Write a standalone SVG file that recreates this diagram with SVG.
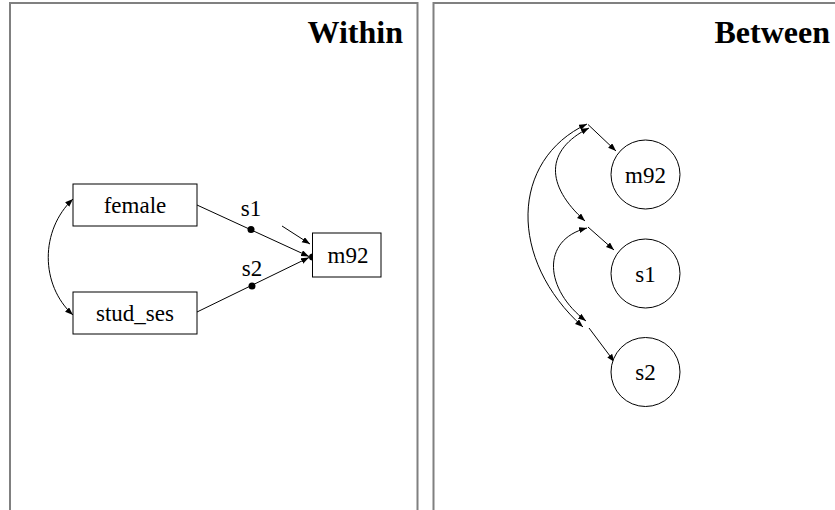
<svg xmlns="http://www.w3.org/2000/svg" width="835" height="510" viewBox="0 0 835 510">
<style>
.panel{fill:none;stroke:#808080;stroke-width:2}
.title{font-family:"Liberation Serif","Times New Roman",serif;font-weight:bold;font-size:32px;fill:#000}
.lbl{font-family:"Liberation Serif","Times New Roman",serif;font-size:23px;fill:#000}
.box{fill:#fff;stroke:#000;stroke-width:1}
.edge{fill:none;stroke:#000;stroke-width:1}
.dot{fill:#000}
</style>
<defs>
<marker id="ah" markerUnits="userSpaceOnUse" markerWidth="9" markerHeight="7" refX="8" refY="3" orient="auto-start-reverse">
<path d="M0,0 L8,3 L0,6 z" fill="#000"/>
</marker>
</defs>
<rect width="835" height="510" fill="#fff"/>
<g id="panel-within">
<path class="panel" d="M10,512 V3 H417.5 V512"/>
<text class="title" x="403" y="43" text-anchor="end">Within</text>
</g>
<g id="panel-between">
<path class="panel" d="M433.5,512 V3 H840"/>
<text class="title" x="830" y="43" text-anchor="end">Between</text>
</g>
<g id="connectors">
<path class="edge" d="M73,199 C40,230 40,285 73,315" marker-start="url(#ah)" marker-end="url(#ah)"/>
<line class="edge" x1="197" y1="205" x2="309" y2="256.5" marker-end="url(#ah)"/>
<line class="edge" x1="197" y1="312" x2="309" y2="257.5" marker-end="url(#ah)"/>
<line class="edge" x1="282" y1="226" x2="310" y2="244" marker-end="url(#ah)"/>
<circle class="dot" cx="251" cy="229.5" r="3.5"/>
<circle class="dot" cx="252" cy="286" r="3.5"/>
<circle class="dot" cx="312.5" cy="257" r="3.5"/>
<text class="lbl" x="251" y="216" text-anchor="middle">s1</text>
<text class="lbl" x="252" y="276" text-anchor="middle">s2</text>
<line class="edge" x1="588" y1="124.5" x2="616" y2="151" marker-end="url(#ah)"/>
<line class="edge" x1="588" y1="227" x2="614" y2="250" marker-end="url(#ah)"/>
<line class="edge" x1="589" y1="328" x2="614.5" y2="362" marker-end="url(#ah)"/>
<path class="edge" d="M585,221 C545,185 545,150 589,128" marker-start="url(#ah)" marker-end="url(#ah)"/>
<path class="edge" d="M587,228 C540,240 545,290 586,321" marker-start="url(#ah)" marker-end="url(#ah)"/>
<path class="edge" d="M587,124 C510,160 508,260 583,327" marker-start="url(#ah)" marker-end="url(#ah)"/>
</g>
<g id="node-female">
<rect class="box" x="73" y="184" width="124" height="42"/>
<text class="lbl" x="135" y="213" text-anchor="middle">female</text>
</g>
<g id="node-stud_ses">
<rect class="box" x="73" y="292" width="124" height="42"/>
<text class="lbl" x="135" y="321" text-anchor="middle">stud_ses</text>
</g>
<g id="node-m92-within">
<rect class="box" x="312.5" y="233" width="68.5" height="44"/>
<text class="lbl" x="348" y="263" text-anchor="middle">m92</text>
</g>
<g id="node-m92-between">
<circle class="box" cx="645.5" cy="174.5" r="34.5"/>
<text class="lbl" x="645.5" y="182.5" text-anchor="middle">m92</text>
</g>
<g id="node-s1-between">
<circle class="box" cx="645.5" cy="273.5" r="34.5"/>
<text class="lbl" x="645.5" y="281.5" text-anchor="middle">s1</text>
</g>
<g id="node-s2-between">
<circle class="box" cx="645.5" cy="372" r="34.5"/>
<text class="lbl" x="645.5" y="380" text-anchor="middle">s2</text>
</g>
</svg>
